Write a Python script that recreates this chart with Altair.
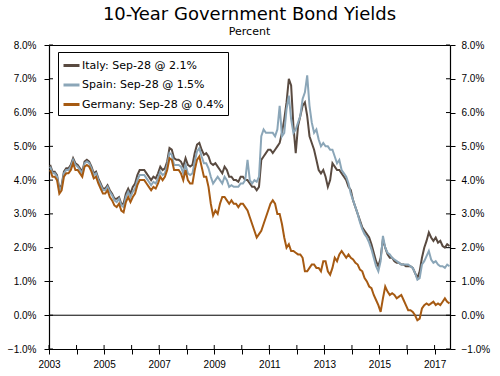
import altair as alt
import pandas as pd

# ---- data (monthly) ----
germany = [
    4.3, 4.1, 4.1, 4.0, 3.6, 3.7, 4.1, 4.2, 4.2, 4.3, 4.5, 4.3,
    4.3, 4.2, 4.1, 4.4, 4.45, 4.4, 4.25, 4.05, 4.1, 3.9, 3.75, 3.6,
    3.6, 3.7, 3.5, 3.4, 3.25, 3.2, 3.3, 3.1, 3.05, 3.35, 3.5, 3.35,
    3.5, 3.6, 3.85, 4.0, 4.0, 4.0, 3.9, 3.8, 3.7, 3.8, 3.75, 3.9,
    4.1, 4.0, 4.1, 4.3, 4.65, 4.6, 4.3, 4.3, 4.3, 4.2, 4.0, 4.3,
    4.0, 3.9, 3.9, 4.3, 4.6, 4.7, 4.4, 4.1, 4.1, 3.8, 3.3, 2.95,
    3.1, 3.0, 3.3, 3.5, 3.5, 3.4, 3.3, 3.4, 3.3, 3.3, 3.2, 3.3,
    3.3, 3.2, 3.1, 2.9, 2.7, 2.5, 2.3, 2.4, 2.5, 2.7, 2.9, 3.1,
    3.3, 3.4, 3.3, 3.0, 3.0, 2.7, 2.3, 2.0, 2.1, 1.9, 1.9, 1.85,
    1.8, 1.8, 1.7, 1.3, 1.3, 1.4, 1.5, 1.5, 1.4, 1.4, 1.3, 1.6,
    1.6, 1.3, 1.2, 1.4, 1.7, 1.6, 1.8, 1.9, 1.8, 1.7, 1.8, 1.7,
    1.65, 1.55, 1.5, 1.35, 1.3, 1.1, 1.0, 0.85, 0.8, 0.6, 0.45, 0.3,
    0.1, 0.5, 0.85, 0.7, 0.6, 0.65, 0.6, 0.5, 0.55, 0.6, 0.45, 0.3,
    0.15, 0.15, 0.1, 0.0, -0.15, -0.1, 0.2, 0.3, 0.35, 0.3, 0.35, 0.4,
    0.3, 0.35, 0.3, 0.4, 0.5, 0.4, 0.35,
]
italy = [
    4.45, 4.25, 4.25, 4.15, 3.75, 3.85, 4.25, 4.35, 4.35, 4.45, 4.65, 4.5,
    4.45, 4.35, 4.25, 4.55, 4.6, 4.55, 4.4, 4.2, 4.25, 4.05, 3.9, 3.75,
    3.75, 3.85, 3.7, 3.6, 3.45, 3.45, 3.5, 3.3, 3.3, 3.6, 3.75, 3.6,
    3.8, 3.9, 4.15, 4.3, 4.3, 4.3, 4.2, 4.1, 4.0, 4.1, 4.05, 4.2,
    4.4, 4.3, 4.35, 4.55, 4.95, 4.9, 4.65, 4.6, 4.6, 4.55, 4.4, 4.65,
    4.45, 4.4, 4.45, 4.8, 5.05, 5.1, 4.9, 4.75, 4.8, 4.7, 4.5, 4.45,
    4.5, 4.4, 4.3, 4.2, 4.4, 4.3, 4.1, 4.1, 4.0, 4.0, 3.95, 4.1,
    4.1, 4.0, 4.0, 3.9, 3.8, 3.8, 3.7, 3.8, 4.6, 4.7, 4.8, 4.9,
    4.9, 4.8, 4.9, 5.0, 5.1, 5.4, 5.8, 6.3, 7.0, 6.8, 5.6, 4.8,
    5.6, 5.9, 6.2, 6.3, 5.9, 5.3, 5.1, 4.9, 4.6, 4.3, 4.2, 4.3,
    4.1, 3.8, 4.0, 4.5, 4.4, 4.3, 4.3, 4.2, 4.1, 4.0, 3.8, 3.7,
    3.4, 3.2, 3.0, 2.8, 2.6, 2.5, 2.4, 2.3, 2.1, 1.85, 1.6, 1.45,
    1.7, 2.25, 2.0, 1.8, 1.7, 1.7, 1.6, 1.55, 1.55, 1.5, 1.5, 1.45,
    1.45, 1.45, 1.4, 1.25, 1.1, 1.3, 1.7, 2.0, 2.2, 2.45, 2.3, 2.2,
    2.3, 2.15, 2.2, 2.05, 2.0, 2.1, 2.05,
]
spain = [
    4.4, 4.2, 4.2, 4.1, 3.7, 3.8, 4.2, 4.3, 4.3, 4.4, 4.6, 4.45,
    4.4, 4.3, 4.2, 4.5, 4.55, 4.5, 4.35, 4.15, 4.2, 4.0, 3.85, 3.7,
    3.7, 3.8, 3.65, 3.55, 3.4, 3.35, 3.45, 3.25, 3.2, 3.5, 3.65, 3.5,
    3.65, 3.75, 4.0, 4.15, 4.15, 4.15, 4.05, 3.95, 3.85, 3.95, 3.9, 4.05,
    4.25, 4.15, 4.2, 4.45, 4.8, 4.75, 4.45, 4.45, 4.45, 4.4, 4.2, 4.45,
    4.2, 4.15, 4.2, 4.55, 4.85, 4.95, 4.7, 4.5, 4.5, 4.35, 4.1, 3.9,
    4.0, 4.1, 4.0, 3.9, 4.1, 4.0, 3.8, 3.85, 3.8, 3.8, 3.8, 3.9,
    3.9, 4.0, 4.6, 4.0, 3.9, 4.0, 3.95, 4.1, 5.3, 5.5, 5.4, 5.4,
    5.4, 5.4, 5.3, 5.5, 6.2, 5.3, 5.4, 6.1, 6.5, 5.8, 5.4, 5.5,
    5.7, 5.9, 6.4, 6.6, 7.1, 6.2, 5.7, 5.4, 5.5, 5.2, 5.0, 5.1,
    5.0, 5.0, 4.9, 4.9, 4.7, 4.5, 4.6, 4.3, 4.2, 4.1, 3.9, 3.6,
    3.4, 3.2, 3.0, 2.75, 2.55, 2.4, 2.3, 2.15, 1.95, 1.7, 1.45, 1.3,
    1.6, 2.35, 2.0, 1.85, 1.8, 1.7, 1.65, 1.6, 1.55, 1.5, 1.5, 1.5,
    1.5, 1.45, 1.4, 1.25, 1.05, 1.1, 1.5, 1.6, 1.75, 1.9, 1.65, 1.55,
    1.6, 1.5, 1.45, 1.45, 1.4, 1.5, 1.45,
]
series_labels = ["Italy: Sep-28 @ 2.1%", "Spain: Sep-28 @ 1.5%", "Germany: Sep-28 @ 0.4%"]
series_colors = ["#594a40", "#8ba6b8", "#a65a12"]
years = list(range(2003, 2018))
y_ticks = [-1, 0, 1, 2, 3, 4, 5, 6, 7, 8]

months = [(y, m) for y in years for m in range(1, 13)][: len(germany)]
t = [y + (m - 0.5) / 12 for y, m in months]

rows = []
for lab, vals in zip(series_labels, [italy, spain, germany]):
    for ti, v in zip(t, vals):
        rows.append({"t": ti, "v": v, "series": lab})
df = pd.DataFrame(rows)

FONT = "DejaVu Sans"
W, H = 401, 304
xdom = [2003, 2017.56]
ydom = [-1, 8]
xs = alt.Scale(domain=xdom, nice=False, zero=False)
ys = alt.Scale(domain=ydom, nice=False, zero=False)

ylab = "format(datum.value, '.1f') + '%'"
AX = dict(domainColor="black", tickColor="black", labelColor="black",
          domainWidth=1.2, tickWidth=1, grid=False)

lines = alt.Chart(df).mark_line(strokeWidth=2).encode(
    x=alt.X("t:Q", scale=xs, title=None,
            axis=alt.Axis(values=years, format="d",
                          labelExpr="datum.value % 2 == 1 ? datum.label : ''",
                          labelPadding=5, labelFlush=False, **AX)),
    y=alt.Y("v:Q", scale=ys, axis=None),
    color=alt.Color("series:N",
                    scale=alt.Scale(domain=series_labels, range=series_colors),
                    legend=alt.Legend(orient="none", legendX=9, legendY=7, title=None,
                                      strokeColor="black", fillColor="white", padding=4,
                                      symbolType="stroke", symbolSize=256,
                                      symbolStrokeWidth=3, labelFontSize=11,
                                      labelFont=FONT, labelColor="black",
                                      rowPadding=3.5, labelOffset=1)),
)

ytick_df = pd.DataFrame({"v": y_ticks})
left_ticks = alt.Chart(ytick_df).mark_rule(color="black").encode(
    y=alt.Y("v:Q", scale=ys, title=None,
            axis=alt.Axis(orient="left", values=y_ticks, labelExpr=ylab,
                          labelPadding=8, **AX)),
    x=alt.value(0), x2=alt.value(4),
)
right_ticks = alt.Chart(ytick_df).mark_rule(color="black").encode(
    y=alt.Y("v:Q", scale=ys, title=None,
            axis=alt.Axis(orient="right", values=y_ticks, labelExpr=ylab,
                          labelPadding=6, **AX)),
    x=alt.value(W - 4), x2=alt.value(W),
)
xtick_df = pd.DataFrame({"t": years})
x_ticks = alt.Chart(xtick_df).mark_rule(color="black").encode(
    x=alt.X("t:Q", scale=xs, title=None,
            axis=alt.Axis(orient="top", labels=False, ticks=False, domain=True, **AX)),
    y=alt.value(H - 4), y2=alt.value(H),
)
zero_df = pd.DataFrame({"z": [0]})
zero_line = alt.Chart(zero_df).mark_rule(color="black", strokeWidth=1).encode(
    y=alt.Y("z:Q", scale=ys, axis=None),
)

chart = alt.layer(zero_line, lines, x_ticks, left_ticks, right_ticks).resolve_axis(
    x="independent", y="independent"
).properties(
    width=W, height=H,
    padding={"left": 49, "top": 45, "right": 50, "bottom": 27},
    autosize=alt.AutoSizeParams(type="none"),
    title=alt.TitleParams(text="10-Year Government Bond Yields", subtitle="Percent",
                          font=FONT, fontSize=18, fontWeight="normal", color="black",
                          subtitleFont=FONT, subtitleFontSize=11, subtitleColor="black",
                          subtitlePadding=2, anchor="middle", offset=3),
).configure_view(stroke=None).configure_title(fontSize=18).configure_axis(
    labelFont=FONT, labelFontSize=11, tickSize=4,
).configure(background="white")

chart.save("out.html", embed_options={"renderer": "svg", "actions": False})
